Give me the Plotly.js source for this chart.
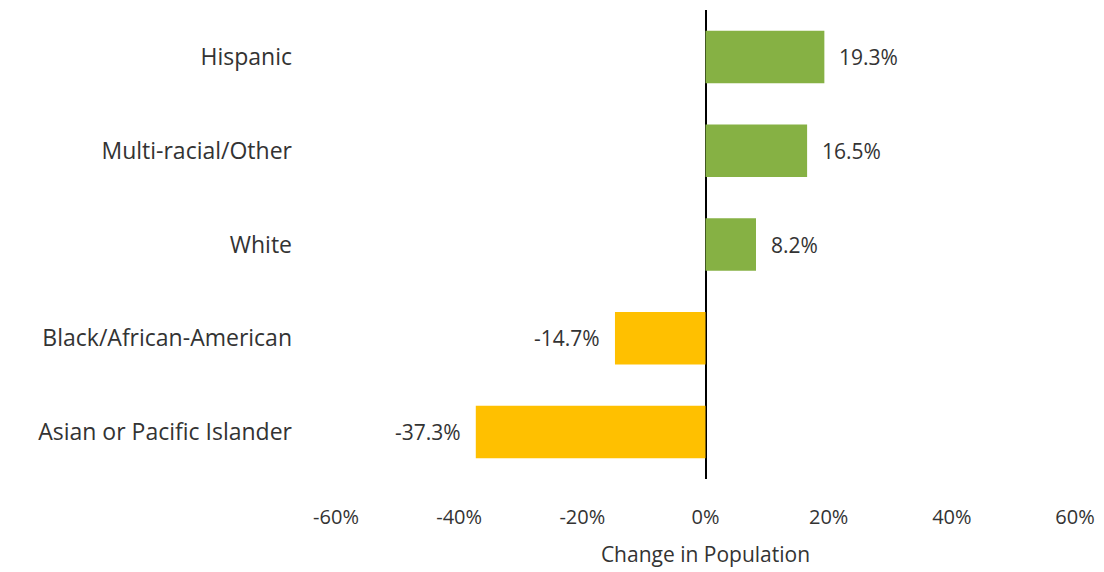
<!DOCTYPE html>
<html>
<head>
<meta charset="utf-8">
<script src="https://cdn.plot.ly/plotly-3.0.1.min.js"></script>
<style>body{margin:0;background:#fff}#chart{width:1104px;height:572px}</style>
</head>
<body>
<div id="chart"></div>
<script>
const categories = ["Hispanic", "Multi-racial/Other", "White", "Black/African-American", "Asian or Pacific Islander"];
const changeValues = [19.3, 16.5, 8.2, -14.7, -37.3];
const valueLabels = ["19.3%", "16.5%", "8.2%", "-14.7%", "-37.3%"];
const xTickValues = [-60, -40, -20, 0, 20, 40, 60];
const xTickLabels = ["-60%", "-40%", "-20%", "0%", "20%", "40%", "60%"];

const colors = changeValues.map(v => v >= 0 ? "#86B144" : "#FFC000");
const FONT = "Open Sans, Liberation Sans, sans-serif";
const TXT = "#333333";

const trace = {
  type: "bar",
  orientation: "h",
  x: changeValues,
  y: categories,
  marker: {color: colors},
  width: 0.56,
  hoverinfo: "skip"
};

const annotations = changeValues.map((v, i) => ({
  x: v, y: categories[i], xref: "x", yref: "y",
  text: valueLabels[i], showarrow: false,
  xanchor: v >= 0 ? "left" : "right",
  xshift: v >= 0 ? 13 : -13,
  font: {family: FONT, size: 21, color: TXT}
}));

const layout = {
  width: 1104, height: 572,
  margin: {l: 336, r: 29, t: 10, b: 93},
  paper_bgcolor: "#fff", plot_bgcolor: "#fff",
  showlegend: false,
  font: {family: FONT, color: TXT},
  xaxis: {
    range: [-60, 60],
    tickvals: xTickValues, ticktext: xTickLabels,
    showgrid: false, showline: false,
    zeroline: true, zerolinecolor: "#000", zerolinewidth: 2,
    tickfont: {family: FONT, size: 20, color: TXT},
    ticklabelstandoff: 24,
    title: {text: "Change in Population", font: {family: FONT, size: 21, color: TXT}, standoff: 18}
  },
  yaxis: {
    categoryorder: "array", categoryarray: categories.slice().reverse(),
    showgrid: false, showline: false, zeroline: false,
    tickfont: {family: FONT, size: 23, color: TXT},
    ticklabelstandoff: 43
  },
  annotations: annotations
};

Plotly.newPlot("chart", [trace], layout, {displayModeBar: false, staticPlot: true});
</script>
</body>
</html>
